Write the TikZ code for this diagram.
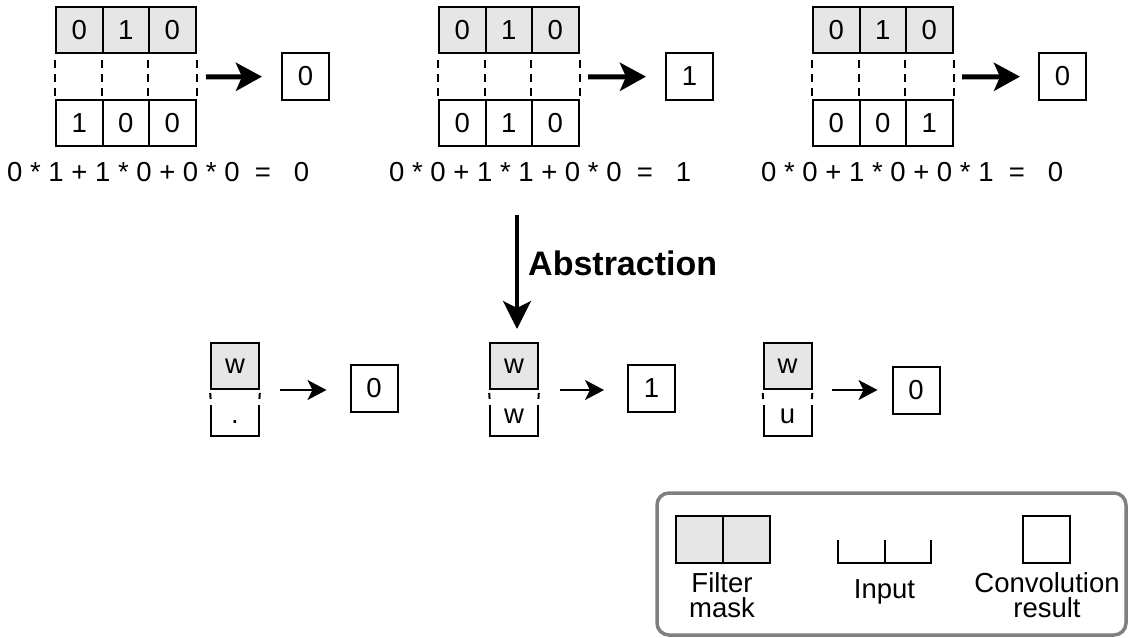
\documentclass[tikz,border=0pt]{standalone}
\usepackage{fontspec}
\setmainfont{Liberation Sans}
\usetikzlibrary{arrows.meta}
\definecolor{maskgray}{HTML}{E6E6E6}
\definecolor{legendgray}{HTML}{808080}
\newcommand\TopBlock[8]{%
  \foreach \i/\v in {0/#3,1/#4,2/#5} {
    \node[fcell] (#2f\i) at ({#1+23.25+46.5*\i},30) {\v};
  }
  \foreach \i/\v in {0/#6,1/#7,2/#8} {
    \node[icell] (#2i\i) at ({#1+23.25+46.5*\i},123) {\v};
  }
  \foreach \i in {0,1,2} { \draw[topdash] (#2f\i.south west) -- (#2i\i.north west); }
  \draw[topdash] (#2f2.south east) -- (#2i2.north east);
}
\newcommand\LowBlock[4]{%
  \node[lowf] (#2f) at (#1,366) {#3};
  \coordinate (#2bl) at ({#1-24},405);
  \coordinate (#2br) at ({#1+24},405);
  \draw[lowdash] (#2f.south west) -- (#2bl);
  \draw[lowdash] (#2f.south east) -- (#2br);
  \draw[cellline] (#2bl) -- ({#1-24},436) -- ({#1+24},436) -- (#2br);
  \node[txt] (#2t) at (#1,423) {#4};
}
\begin{document}
\begin{tikzpicture}[x=1pt,y=-1pt,
  txt/.style={font=\fontsize{27.5}{27.5}\selectfont, inner sep=0pt, anchor=base},
  cellline/.style={line width=2pt, black},
  fcell/.style={draw, line width=2pt, fill=maskgray, minimum width=46.5pt, minimum height=46pt, inner sep=0pt, font=\fontsize{27.5}{27.5}\selectfont},
  icell/.style={fcell, fill=white},
  resbox/.style={draw, line width=2pt, minimum width=47pt, minimum height=47pt, inner sep=0pt, font=\fontsize{27.5}{27.5}\selectfont},
  lowf/.style={fcell, minimum width=48pt},
  topdash/.style={line width=2pt, dash pattern=on 8pt off 6pt, dash phase=8pt},
  lowdash/.style={line width=2pt, dash pattern=on 6pt off 7pt, dash phase=10pt},
  bigarrow/.style={line width=5pt, -{Stealth[length=26pt, width=28pt, inset=6pt]}},
  smallarrow/.style={line width=2pt, -{Stealth[length=19pt, width=20pt, inset=5pt]}},
  absarrow/.style={line width=3.5pt, -{Stealth[length=28pt, width=28pt, inset=7pt]}},
  legendbox/.style={draw=legendgray, line width=3.5pt, rounded corners=12pt}
]
\useasboundingbox (0,0) rectangle (1129,637);

% ---- top row ----
\TopBlock{56}{A}{0}{1}{0}{1}{0}{0}
\TopBlock{439}{B}{0}{1}{0}{0}{1}{0}
\TopBlock{813}{C}{0}{1}{0}{0}{0}{1}

\node[resbox] (Ar) at (305.5,76.5) {0};
\node[resbox] (Br) at (689.5,76.5) {1};
\node[resbox] (Cr) at (1062.5,76.5) {0};

\coordinate (Aa) at (206,77);
\coordinate (Ba) at (588,77);
\coordinate (Ca) at (962,77);
\draw[bigarrow, shorten >=19pt] (Aa) -- (Ar.west);
\draw[bigarrow, shorten >=19pt] (Ba) -- (Br.west);
\draw[bigarrow, shorten >=18pt] (Ca) -- (Cr.west);

\node[txt, anchor=base west] (eqA) at (7,181) {0 * 1 + 1 * 0 + 0 * 0~~=~~~0};
\node[txt, anchor=base west] (eqB) at (389,181) {0 * 0 + 1 * 1 + 0 * 0~~=~~~1};
\node[txt, anchor=base west] (eqC) at (761,181) {0 * 0 + 1 * 0 + 0 * 1~~=~~~0};

% ---- lower row ----
\LowBlock{235}{L}{w}{.}
\LowBlock{514}{M}{w}{w}
\LowBlock{787.5}{N}{w}{u}

\node[resbox] (Lr) at (374,388.5) {0};
\node[resbox] (Mr) at (651.5,388.5) {1};
\node[resbox] (Nr) at (916,390) {0};

\coordinate (La) at (280,390);
\coordinate (Ma) at (560,390);
\coordinate (Na) at (832,390);
\draw[smallarrow, shorten >=23pt] (La) -- (Lr.west |- La);
\draw[smallarrow, shorten >=23pt] (Ma) -- (Mr.west |- Ma);
\draw[smallarrow, shorten >=14pt] (Na) -- (Nr.west |- Na);

% ---- abstraction ----
\coordinate (absS) at (517,215);
\draw[absarrow, shorten >=13pt] (absS) -- (absS |- Mf.north);
\node[txt, anchor=base west, font=\fontsize{34}{34}\selectfont\bfseries] (abs) at (528,275) {Abstraction};

% ---- legend ----
\draw[legendbox] (657,493) rectangle (1126,635);
\node[fcell, minimum width=47pt, minimum height=47pt] (lf1) at (699.5,539.5) {};
\node[fcell, minimum width=47pt, minimum height=47pt] (lf2) at (746.5,539.5) {};
\node[txt] (lt1) at (722,592) {Filter};
\node[txt] (lt2) at (722,617) {mask};
\coordinate (lib1) at (838,540);
\coordinate (lib2) at (931,540);
\draw[cellline] (lib1) -- (838,563) -- (931,563) -- (lib2);
\draw[cellline] (884.5,540) -- (884.5,563);
\node[txt] (lt3) at (884.5,598) {Input};
\node[resbox] (lr) at (1046,539.5) {};
\node[txt] (lt4) at (1047,592) {Convolution};
\node[txt] (lt5) at (1047,617) {result};
\end{tikzpicture}
\end{document}
